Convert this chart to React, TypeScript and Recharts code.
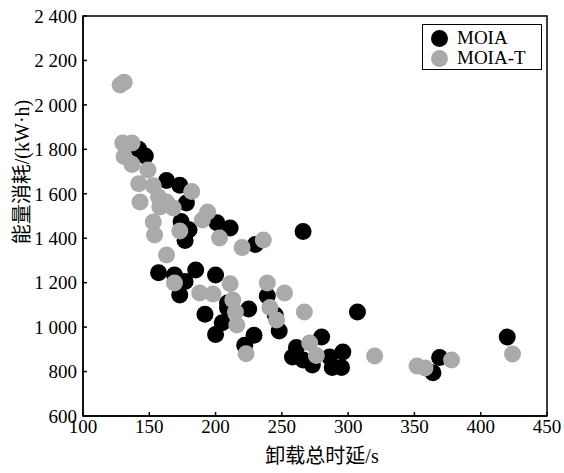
import React from 'react';
import { ScatterChart, Scatter, XAxis, YAxis, ReferenceArea, Legend, Label } from 'recharts';

// MOIA results (unloading delay in s, energy in kW·h)
const moiaDelay = [
  142, 147, 163, 173, 178, 174, 180, 177, 201, 211, 230, 266, 157, 169, 177, 185, 200, 173, 192, 205, 200,
  209, 209, 225, 229, 222, 239, 245, 248, 307, 280, 261, 258, 273, 286, 296, 288, 295, 266, 369, 364, 420,
];
const moiaEnergy = [
  1800, 1770, 1660, 1638, 1558, 1475, 1438, 1390, 1470, 1446, 1372, 1430, 1245, 1234, 1205, 1257, 1234, 1144,
  1058, 1020, 967, 1108, 1086, 1082, 963, 918, 1140, 1055, 982, 1068, 956, 908, 866, 829, 866, 888, 818, 818,
  852, 863, 795, 955,
];

// MOIA-T results
const moiaTDelay = [
  128, 131, 130, 137, 131, 137, 149, 142, 153, 182, 143, 157, 163, 158, 168, 194, 190, 173, 153, 154, 203,
  220, 236, 163, 169, 211, 239, 188, 198, 213, 215, 216, 223, 241, 246, 252, 267, 271, 276, 320, 352, 358,
  378, 424,
];
const moiaTEnergy = [
  2090, 2102, 1828, 1828, 1768, 1732, 1707, 1645, 1636, 1610, 1563, 1586, 1563, 1540, 1536, 1518, 1482, 1432,
  1473, 1414, 1401, 1358, 1392, 1325, 1198, 1195, 1198, 1153, 1149, 1122, 1068, 1010, 880, 1088, 1032, 1153,
  1068, 928, 872, 870, 825, 816, 852, 879,
];

const xTicks = [100, 150, 200, 250, 300, 350, 400, 450];
const yTicks = [600, 800, 1000, 1200, 1400, 1600, 1800, 2000, 2200, 2400];

const FONT = '"Liberation Serif", "Times New Roman", "Noto Sans CJK SC", serif';
const CJK_FONT = '"Liberation Serif", "Noto Sans CJK SC", serif';

const series = [
  { name: 'MOIA', color: '#000000', data: moiaDelay.map((d, i) => ({ delay: d, energy: moiaEnergy[i] })) },
  { name: 'MOIA-T', color: '#aaaaaa', data: moiaTDelay.map((d, i) => ({ delay: d, energy: moiaTEnergy[i] })) },
];

// thousands separated by a space, e.g. "2 400"
const fmtY = (v: number) => (v >= 1000 ? `${Math.floor(v / 1000)} ${String(v % 1000).padStart(3, '0')}` : String(v));

const dot = (color: string) => (props: any) => <circle cx={props.cx} cy={props.cy} r={8.5} fill={color} />;

const renderLegend = () => (
  <div
    style={{
      border: '1.5px solid #000',
      boxSizing: 'border-box',
      width: 120,
      height: 46,
      padding: '3px 0 0 8px',
      background: '#fff',
      fontFamily: FONT,
      fontSize: 19,
      lineHeight: '20px',
      color: '#000',
    }}
  >
    {series.map((s) => (
      <div key={s.name} style={{ display: 'flex', alignItems: 'center' }}>
        <span
          style={{ display: 'inline-block', width: 17, height: 17, borderRadius: '50%', background: s.color, marginRight: 9 }}
        />
        {s.name}
      </div>
    ))}
  </div>
);

export default function App() {
  const tick = { fill: '#000', fontSize: 19, fontFamily: FONT };
  return (
    <div style={{ position: 'absolute', left: 0, top: 0, background: '#fff' }}>
      <ScatterChart width={564} height={473} margin={{ top: 16, right: 17, bottom: 0, left: 0 }}>
        <XAxis
          type="number"
          dataKey="delay"
          domain={[100, 450]}
          ticks={xTicks}
          interval={0}
          height={57}
          tick={tick}
          tickSize={-4}
          tickMargin={8}
          stroke="#000"
          axisLine={{ stroke: '#000', strokeWidth: 1.5 }}
          tickLine={{ stroke: '#000', strokeWidth: 1.5 }}
        >
          <Label
            content={() => (
              <text x={322} y={463} textAnchor="middle" fontFamily={CJK_FONT} fontSize={20} fill="#000">
                卸载总时延/s
              </text>
            )}
          />
        </XAxis>
        <YAxis
          type="number"
          dataKey="energy"
          domain={[600, 2400]}
          ticks={yTicks}
          interval={0}
          width={83}
          tick={tick}
          tickFormatter={fmtY}
          tickSize={-4}
          tickMargin={10}
          stroke="#000"
          axisLine={{ stroke: '#000', strokeWidth: 1.5 }}
          tickLine={{ stroke: '#000', strokeWidth: 1.5 }}
        >
          <Label
            content={() => (
              <text
                x={22}
                y={172}
                transform="rotate(-90 22 172)"
                textAnchor="middle"
                dominantBaseline="central"
                fontFamily={CJK_FONT}
                fontSize={20}
                fill="#000"
              >
                能量消耗/(kW·h)
              </text>
            )}
          />
        </YAxis>
        <ReferenceArea x1={100} x2={450} y1={600} y2={2400} fill="none" stroke="#000" strokeWidth={1.5} ifOverflow="visible" />
        {series.map((s) => (
          <Scatter key={s.name} name={s.name} data={s.data} fill={s.color} shape={dot(s.color)} isAnimationActive={false} />
        ))}
        <Legend
          content={renderLegend}
          layout="horizontal"
          verticalAlign="middle"
          align="center"
          wrapperStyle={{ position: 'absolute', left: 422, top: 24, width: 'auto' }}
        />
      </ScatterChart>
    </div>
  );
}
